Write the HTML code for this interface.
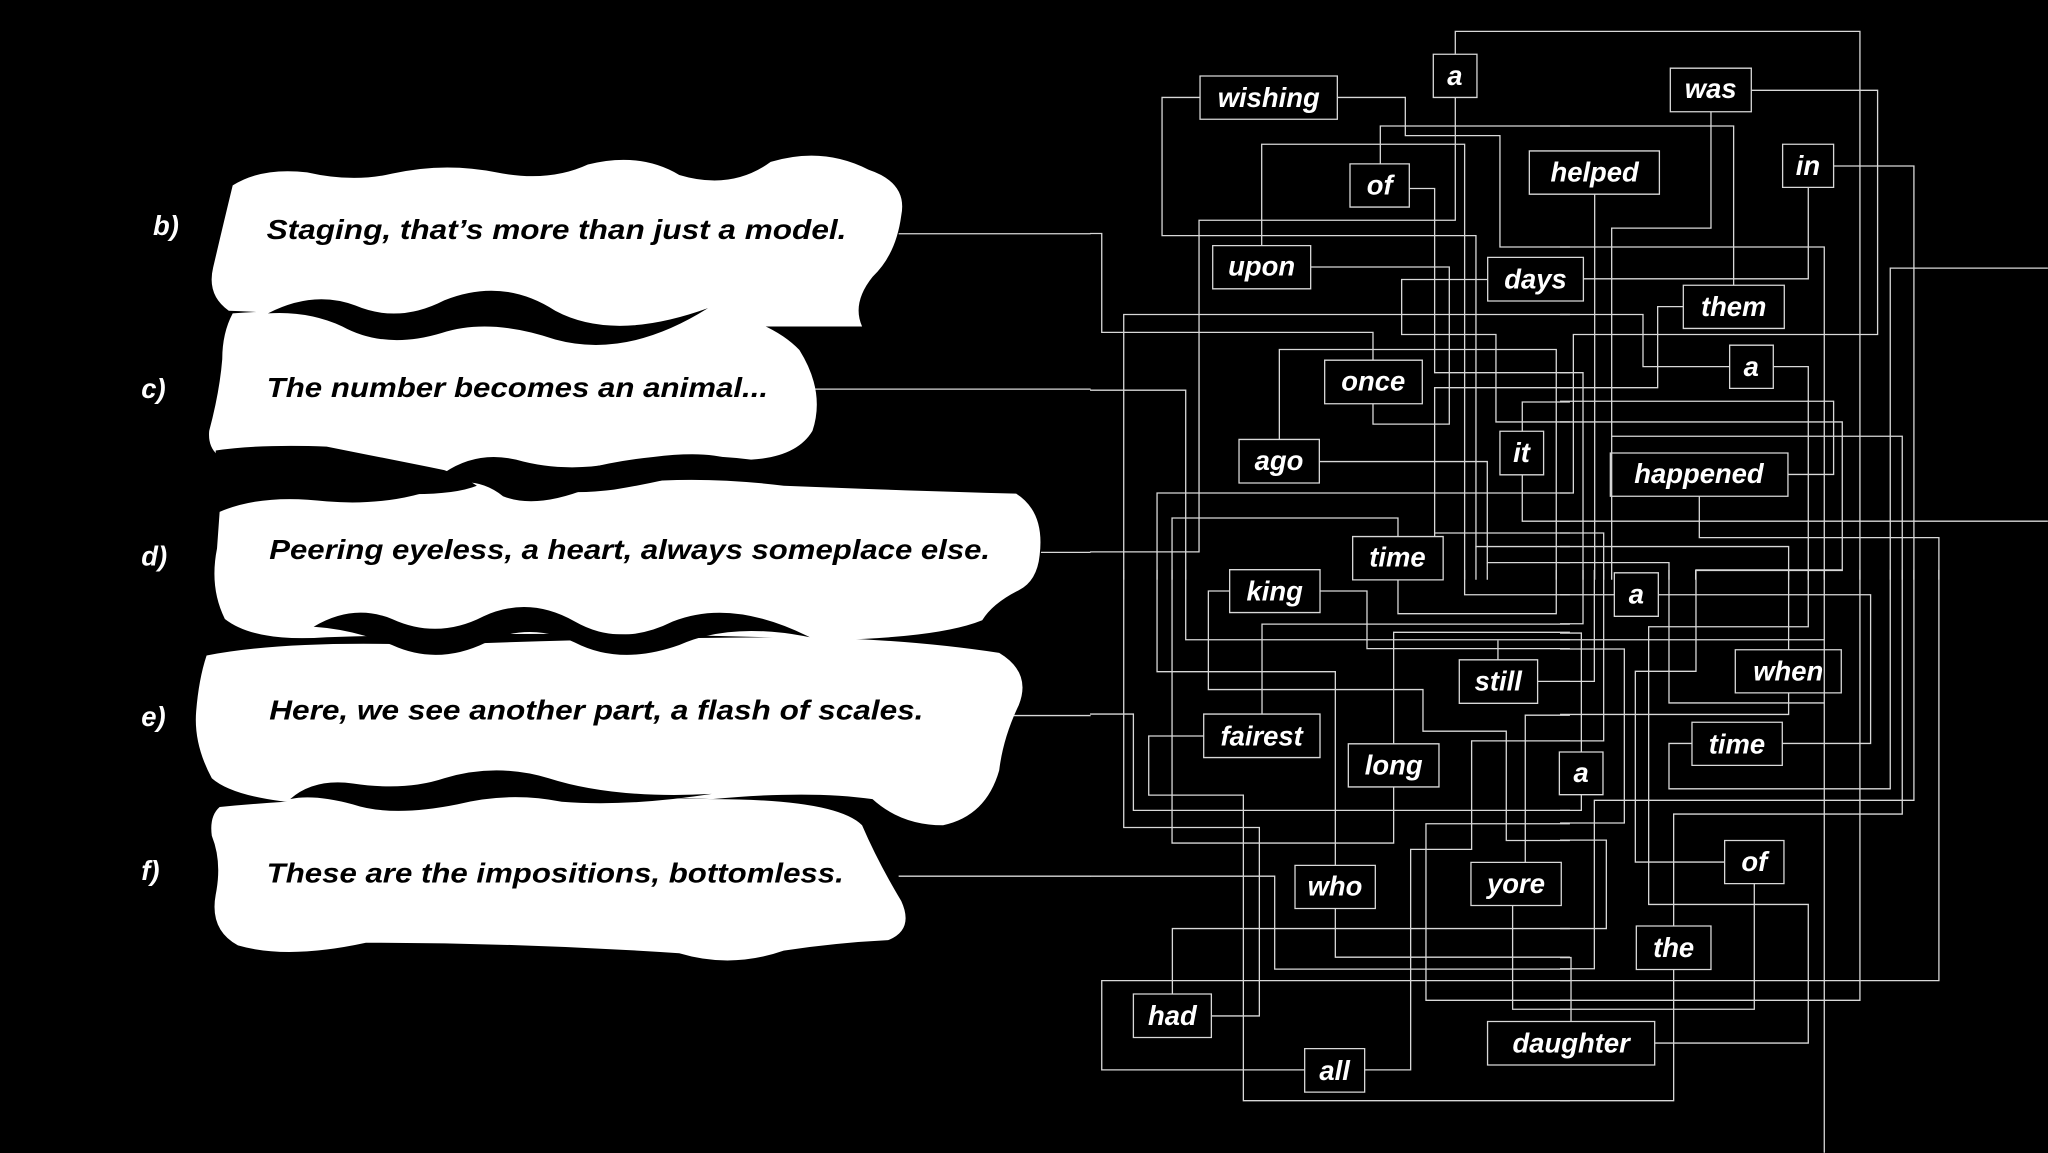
<!DOCTYPE html>
<html><head><meta charset="utf-8">
<style>
html,body{margin:0;padding:0;background:#000;}
svg{display:block;}
.w{font-family:"Liberation Sans",sans-serif;font-style:italic;font-weight:bold;fill:#fff;font-size:21px;}
.t{font-family:"Liberation Sans",sans-serif;font-style:italic;font-weight:bold;fill:#000;font-size:21px;}
.l{font-family:"Liberation Sans",sans-serif;font-style:italic;font-weight:bold;fill:#fff;font-size:21px;}
.g polyline,.g rect{fill:none;stroke:#d8d8d8;stroke-width:1.3;vector-effect:non-scaling-stroke;}
.bx{fill:#000;stroke:#d8d8d8;stroke-width:1.3;vector-effect:non-scaling-stroke;}
</style></head>
<body>
<svg width="2048" height="1153" viewBox="0 0 1568 883" xmlns="http://www.w3.org/2000/svg">
<rect width="1568" height="883" fill="#000"/>

<!-- left bubble connection stubs -->
<g class="g">
<polyline points="688,179 835,179"/>
<polyline points="617,298 835,298"/>
<polyline points="797,423 835,423"/>
<polyline points="775,548 835,548"/>
<polyline points="688,671 835,671"/>
</g>

<!-- zoom1 region -->
<g class="g" transform="translate(834.6,15.3) scale(0.2552,0.2734)">
<polyline points="330,217 216,217 216,604 1158,604 1158,1475 1440,1475"/>
<polyline points="742,217 946,217 946,324 1230,324 1230,636 1440,636"/>
<polyline points="1096,95 1096,32 1440,32"/>
<polyline points="1096,217 1096,561 327,561 327,1490 0,1490"/>
<polyline points="871,403 871,297 1440,297"/>
<polyline points="515,632 515,348 1124,348 1124,1568"/>
<polyline points="958,472 1034,472 1034,988 1440,988"/>
<polyline points="662,692 1078,692 1078,1132 849,1132 849,1075"/>
<polyline points="1193,727 935,727 935,881 1218,881 1218,1126 1440,1126"/>
<polyline points="0,598 35,598 35,875 849,875 849,953"/>
<polyline points="101,1568 101,825 1440,825"/>
<polyline points="568,1175 568,923 1399,923 1399,1568"/>
<polyline points="0,1037 287,1037 287,1568"/>
<polyline points="1440,1030 1034,1030 1034,1437 1440,1437"/>
<polyline points="1297,1152 1297,1070 1440,1070"/>
<polyline points="1297,1274 1297,1404 1440,1404"/>
<polyline points="688,1237 1192,1237 1192,1520 1440,1520"/>
<polyline points="201,1568 201,1325 1440,1325"/>
<polyline points="246,1568 246,1395 924,1395 924,1447"/>
<polyline points="1158,1475 1158,1568"/>
<polyline points="1192,1520 1192,1568"/>
<polyline points="1034,1437 1034,1568"/>
<rect x="330" y="157" width="412" height="121"/>
<rect x="1030" y="96" width="131" height="121"/>
<rect x="780" y="403" width="178" height="121"/>
<rect x="368" y="632" width="294" height="121"/>
<rect x="704" y="953" width="293" height="122"/>
<rect x="447" y="1175" width="241" height="122"/>
<rect x="1230" y="1152" width="131" height="122"/>
</g>

<!-- zoom2 region -->
<g class="g" transform="translate(1194.5,15.3) scale(0.2552,0.2734)">
<polyline points="0,32 900,32 900,1568"/>
<polyline points="574,197 953,197 953,881 40,881 40,1325 0,1325"/>
<polyline points="453,257 453,583 155,583 155,1166 1027,1166 1027,1568"/>
<polyline points="0,297 521,297 521,743"/>
<polyline points="821,409 1062,409 1062,1568"/>
<polyline points="745,469 745,725 70,725"/>
<polyline points="0,636 793,636 793,1568"/>
<polyline points="1464,695 991,695 991,1568"/>
<polyline points="370,803 293,803 293,1030 0,1030"/>
<polyline points="0,825 249,825 249,971 509,971"/>
<polyline points="640,971 745,971 745,1568"/>
<polyline points="104,488 104,1568"/>
<polyline points="0,988 69,988 69,1568"/>
<polyline points="0,1068 821,1068 821,1273 684,1273"/>
<polyline points="0,1126 847,1126 847,1542 407,1542 407,1568"/>
<polyline points="418,1334 418,1450 1137,1450 1137,1568"/>
<polyline points="0,1404 1464,1404"/>
<polyline points="0,1437 131,1437 131,1568"/>
<polyline points="0,1475 686,1475 686,1568"/>
<polyline points="0,1520 327,1520 327,1568"/>
<polyline points="155,1166 155,1568"/>
<rect x="331" y="135" width="243" height="122"/>
<rect x="668" y="348" width="153" height="121"/>
<rect x="370" y="743" width="303" height="121"/>
<rect x="509" y="911" width="131" height="121"/>
<rect x="151" y="1213" width="533" height="121"/>
</g>

<!-- zoom3 region -->
<g class="g" transform="translate(834.6,436.4) scale(0.2552,0.2847)">
<polyline points="101,0 101,693 508,693 508,1200 364,1200"/>
<polyline points="201,0 201,274 736,274 736,795"/>
<polyline points="246,0 246,735 911,735 911,584"/>
<polyline points="287,0 287,188 1440,188"/>
<polyline points="419,57 355,57 355,322 999,322 999,434 1249,434 1249,728 1440,728"/>
<polyline points="690,57 831,57 831,212 1440,212"/>
<polyline points="516,388 516,146 1440,146"/>
<polyline points="911,468 911,168 1440,168"/>
<polyline points="1224,242 1224,190"/>
<polyline points="1343,300 1440,300"/>
<polyline points="0,388 130,388 130,647 1440,647"/>
<polyline points="341,447 176,447 176,606 460,606 460,1428 1440,1428"/>
<polyline points="1306,787 1306,391 1440,391"/>
<polyline points="1440,460 1145,460 1145,752 962,752 962,1345 824,1345"/>
<polyline points="1440,683 1008,683 1008,1158 1440,1158"/>
<polyline points="0,824 554,824 554,1074 1440,1074"/>
<polyline points="736,911 736,1042 1440,1042"/>
<polyline points="1440,965 247,965 247,1141"/>
<polyline points="644,1345 35,1345 35,1105 1440,1105"/>
<polyline points="1268,903 1268,1182 1440,1182"/>
<polyline points="924,27 924,118 1399,118 1399,0"/>
<polyline points="1124,0 1124,67 1440,67"/>
<rect x="341" y="388" width="349" height="117"/>
<rect x="775" y="468" width="272" height="116"/>
<rect x="1108" y="242" width="235" height="117"/>
<rect x="615" y="795" width="241" height="116"/>
<rect x="1143" y="787" width="271" height="116"/>
<rect x="130" y="1141" width="234" height="117"/>
<rect x="644" y="1288" width="180" height="117"/>
</g>

<!-- zoom4 region -->
<g class="g" transform="translate(1194.5,436.4) scale(0.2552,0.2847)">
<polyline points="0,67 163,67"/>
<polyline points="295,67 932,67 932,467 667,467"/>
<polyline points="848,0 408,0 408,273 226,273 226,786 494,786"/>
<polyline points="686,0 686,215"/>
<polyline points="745,0 745,153 266,153 266,900 745,900 745,1273 284,1273"/>
<polyline points="0,188 793,188"/>
<polyline points="327,0 327,358 793,358"/>
<polyline points="686,331 686,389 0,389"/>
<polyline points="396,467 327,467 327,589 991,589 991,0"/>
<polyline points="0,1073 103,1073 103,620 1062,620 1062,0"/>
<polyline points="341,958 341,657 1027,657 1027,0"/>
<polyline points="0,145 69,145 69,0"/>
<polyline points="0,170 64,170 64,490"/>
<polyline points="0,213 193,213 193,681 0,681"/>
<polyline points="0,300 103,300 103,0"/>
<polyline points="0,460 131,460 131,0"/>
<polyline points="64,605 64,647 0,647"/>
<polyline points="0,727 139,727 139,965 0,965"/>
<polyline points="0,1043 33,1043 33,1215"/>
<polyline points="583,844 583,1182 0,1182"/>
<polyline points="0,1105 1137,1105 1137,0"/>
<polyline points="0,1158 900,1158 900,0"/>
<polyline points="341,1075 341,1428 0,1428"/>
<polyline points="793,0 793,1568"/>
<rect x="163" y="8" width="132" height="117"/>
<rect x="526" y="215" width="318" height="116"/>
<rect x="396" y="410" width="271" height="116"/>
<rect x="494" y="728" width="178" height="116"/>
<rect x="229" y="958" width="224" height="117"/>
</g>

<!-- boxes spanning regions -->
<rect class="bx" x="1139.1" y="197.1" width="73.3" height="33.4"/>
<rect class="bx" x="1171" y="115.6" width="99.6" height="33.1"/>
<rect class="bx" x="1035.7" y="410.9" width="69.3" height="33.2"/>
<rect class="bx" x="941.5" y="436.3" width="69.2" height="32.8"/>
<rect class="bx" x="1139" y="782.3" width="128" height="33.3"/>
<rect class="bx" x="1194" y="575.9" width="33.4" height="32.7"/>

<!-- word labels -->
<g class="w" text-anchor="middle">
<text x="971.4" y="82">wishing</text>
<text x="1114" y="65">a</text>
<text x="1056.4" y="149">of</text>
<text x="966" y="211">upon</text>
<text x="1175.7" y="221">days</text>
<text x="1051.5" y="299">once</text>
<text x="979.3" y="360">ago</text>
<text x="1165" y="354">it</text>
<text x="1070" y="434">time</text>
<text x="1221" y="139">helped</text>
<text x="1309.9" y="75">was</text>
<text x="1384.4" y="134">in</text>
<text x="1327.5" y="242">them</text>
<text x="1341" y="288">a</text>
<text x="1300.9" y="370">happened</text>
<text x="976" y="460">king</text>
<text x="966" y="571">fairest</text>
<text x="1067.1" y="593">long</text>
<text x="1147.2" y="529">still</text>
<text x="1022.2" y="686">who</text>
<text x="1160.8" y="684">yore</text>
<text x="897.6" y="785">had</text>
<text x="1021.9" y="827">all</text>
<text x="1203" y="806">daughter</text>
<text x="1253" y="462">a</text>
<text x="1369.3" y="521">when</text>
<text x="1330" y="577">time</text>
<text x="1210.7" y="599">a</text>
<text x="1343.3" y="667">of</text>
<text x="1281.5" y="733">the</text>
</g>

<!-- blobs -->
<g fill="#fff">
<path d="M178,142 Q200,128 235,132 Q270,140 300,133 Q340,124 380,132 Q420,140 450,126 Q490,116 520,134 Q560,146 590,124 Q630,112 665,130 Q695,140 690,165 Q686,195 668,212 Q652,232 660,250 L540,250 Q420,232 300,246 Q230,240 175,238 Q158,226 163,205 Q170,175 178,142 Z"/>
<path d="M178,240 Q300,232 540,236 Q590,245 612,268 Q632,300 622,330 Q610,350 575,352 Q520,345 470,355 Q430,362 395,352 Q365,345 340,362 Q300,372 255,350 Q215,340 185,355 Q158,352 160,330 Q168,300 170,275 Q170,255 178,240 Z"/>
<path d="M168,392 Q200,378 250,384 Q300,388 340,372 Q365,364 385,380 Q410,390 450,374 Q520,362 600,372 Q700,376 778,378 Q800,392 796,425 Q794,445 780,452 Q760,462 752,475 Q720,488 640,490 Q450,482 250,488 Q195,492 172,474 Q160,450 166,420 Z"/>
<path d="M158,502 Q220,490 330,494 Q480,488 620,488 Q700,490 765,500 Q790,515 780,540 Q768,565 765,590 Q755,625 722,632 Q690,632 668,612 Q620,605 545,612 Q400,605 240,616 Q180,612 162,596 Q148,570 150,545 Q152,520 158,502 Z"/>
<path d="M168,618 Q300,605 545,612 Q640,612 660,632 Q672,660 690,690 Q700,712 680,720 Q640,722 600,728 Q560,742 520,730 Q400,722 280,722 Q220,735 182,724 Q160,712 165,685 Q170,660 162,640 Q160,625 168,618 Z"/>
</g>
<!-- black ribbons -->
<g fill="#000">
<path d="M205,240 Q240,222 272,234 Q305,248 340,230 Q385,212 425,238 Q470,262 542,236 Q480,275 425,260 Q375,243 338,255 Q295,268 262,250 Q236,238 205,240 Z"/>
<path d="M165,345 Q200,340 250,342 Q300,352 340,360 Q355,365 365,372 Q345,380 300,378 Q240,374 185,372 L165,370 Z"/>
<path d="M410,372 Q450,355 500,350 Q540,345 560,352 Q530,365 470,375 Q430,380 410,372 Z"/>
<path d="M240,480 Q270,462 300,474 Q335,490 370,472 Q405,456 440,476 Q475,496 515,476 Q560,458 620,488 Q560,476 520,494 Q475,510 440,492 Q405,476 372,492 Q335,510 300,494 Q270,482 240,480 Z"/>
<path d="M222,612 Q240,596 270,600 Q310,606 340,596 Q380,584 420,596 Q470,612 545,608 Q480,618 430,614 Q390,606 350,616 Q300,626 270,616 Q240,608 222,612 Z"/>
</g>

<!-- bubble text -->
<g class="t">
<text x="204" y="183" textLength="444" lengthAdjust="spacingAndGlyphs">Staging, that’s more than just a model.</text>
<text x="204" y="304" textLength="384" lengthAdjust="spacingAndGlyphs">The number becomes an animal...</text>
<text x="206" y="428" textLength="552" lengthAdjust="spacingAndGlyphs">Peering eyeless, a heart, always someplace else.</text>
<text x="206" y="551" textLength="501" lengthAdjust="spacingAndGlyphs">Here, we see another part, a flash of scales.</text>
<text x="204" y="676" textLength="442" lengthAdjust="spacingAndGlyphs">These are the impositions, bottomless.</text>
</g>
<g class="l">
<text x="117" y="180">b)</text>
<text x="108" y="305">c)</text>
<text x="108" y="433">d)</text>
<text x="108" y="556">e)</text>
<text x="108" y="674">f)</text>
</g>
</svg>
</body></html>
